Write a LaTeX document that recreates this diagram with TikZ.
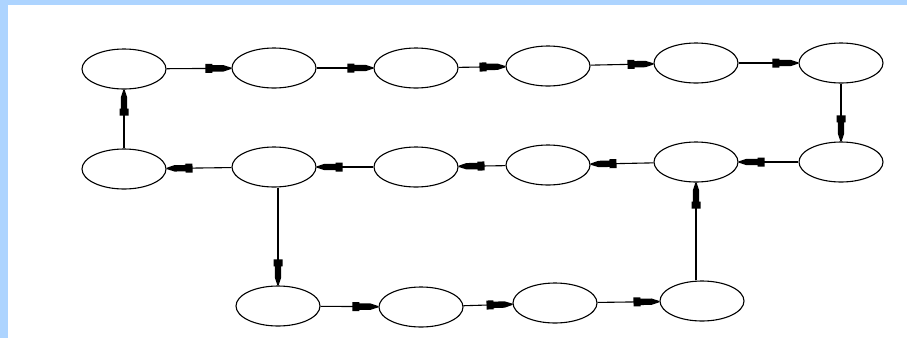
\documentclass[tikz,border=0pt]{standalone}
\usetikzlibrary{arrows.meta,shapes.geometric}
\definecolor{bandblue}{RGB}{173,212,255}
\pgfdeclarearrow{
  name=GVtip,
  setup code={
    \pgfarrowssettipend{0pt}
    \pgfarrowssetbackend{-26pt}
    \pgfarrowssetlineend{-12pt}
    \pgfarrowsupperhullpoint{-26pt}{4.5pt}
    \pgfarrowsupperhullpoint{0pt}{0pt}
  },
  drawing code={
    \pgfpathmoveto{\pgfpoint{0pt}{0.6pt}}
    \pgfpathlineto{\pgfpoint{-8pt}{3.2pt}}
    \pgfpathlineto{\pgfpoint{-19pt}{3.2pt}}
    \pgfpathlineto{\pgfpoint{-19pt}{4.5pt}}
    \pgfpathlineto{\pgfpoint{-26pt}{4.5pt}}
    \pgfpathlineto{\pgfpoint{-26pt}{-4.5pt}}
    \pgfpathlineto{\pgfpoint{-19pt}{-4.5pt}}
    \pgfpathlineto{\pgfpoint{-19pt}{-3.2pt}}
    \pgfpathlineto{\pgfpoint{-8pt}{-3.2pt}}
    \pgfpathlineto{\pgfpoint{0pt}{-0.6pt}}
    \pgfpathclose
    \pgfusepathqfill
  }
}
\tikzset{
  st/.style={ellipse,draw=black,line width=1.1pt,minimum width=84pt,minimum height=40pt,inner sep=0pt,fill=white},
  arr/.style={line width=1.1pt,-GVtip}
}
\begin{document}
\begin{tikzpicture}[x=1pt,y=-1pt]
\useasboundingbox (0,0) rectangle (907,338);
\fill[white] (0,0) rectangle (907,338);
\fill[bandblue] (0,0) rectangle (907,5);
\fill[bandblue] (0,0) rectangle (8,338);
% row 1
\node[st] (e1) at (124,69) {};
\node[st] (e2) at (274,68) {};
\node[st] (e3) at (416,68) {};
\node[st] (e4) at (548,66) {};
\node[st] (e5) at (696,63) {};
\node[st] (e6) at (841,63) {};
% row 2
\node[st] (e7) at (841,162) {};
\node[st] (e8) at (696,162) {};
\node[st] (e9) at (548,165) {};
\node[st] (e10) at (416,167) {};
\node[st] (e11) at (274,167) {};
\node[st] (e12) at (124,169) {};
% row 3
\node[st] (e13) at (278,306) {};
\node[st] (e14) at (421,307) {};
\node[st] (e15) at (555,303) {};
\node[st] (e16) at (702,301) {};
% edges
\draw[arr] (e1) -- (e2);
\draw[arr] (e2) -- (e3);
\draw[arr] (e3) -- (e4);
\draw[arr] (e4) -- (e5);
\draw[arr] (e5) -- (e6);
\draw[arr] (e6) -- (e7);
\draw[arr] (e7) -- (e8);
\draw[arr] (e8) -- (e9);
\draw[arr] (e9) -- (e10);
\draw[arr] (e10) -- (e11);
\draw[arr] (e11) -- (e12);
\draw[arr] (e12) -- (e1);
\draw[arr] (e11.south -| e13.north) -- (e13.north);
\draw[arr] (e13) -- (e14);
\draw[arr] (e14) -- (e15);
\draw[arr] (e15) -- (e16);
\draw[arr] (e16.north -| e8.south) -- (e8.south);
\end{tikzpicture}
\end{document}
